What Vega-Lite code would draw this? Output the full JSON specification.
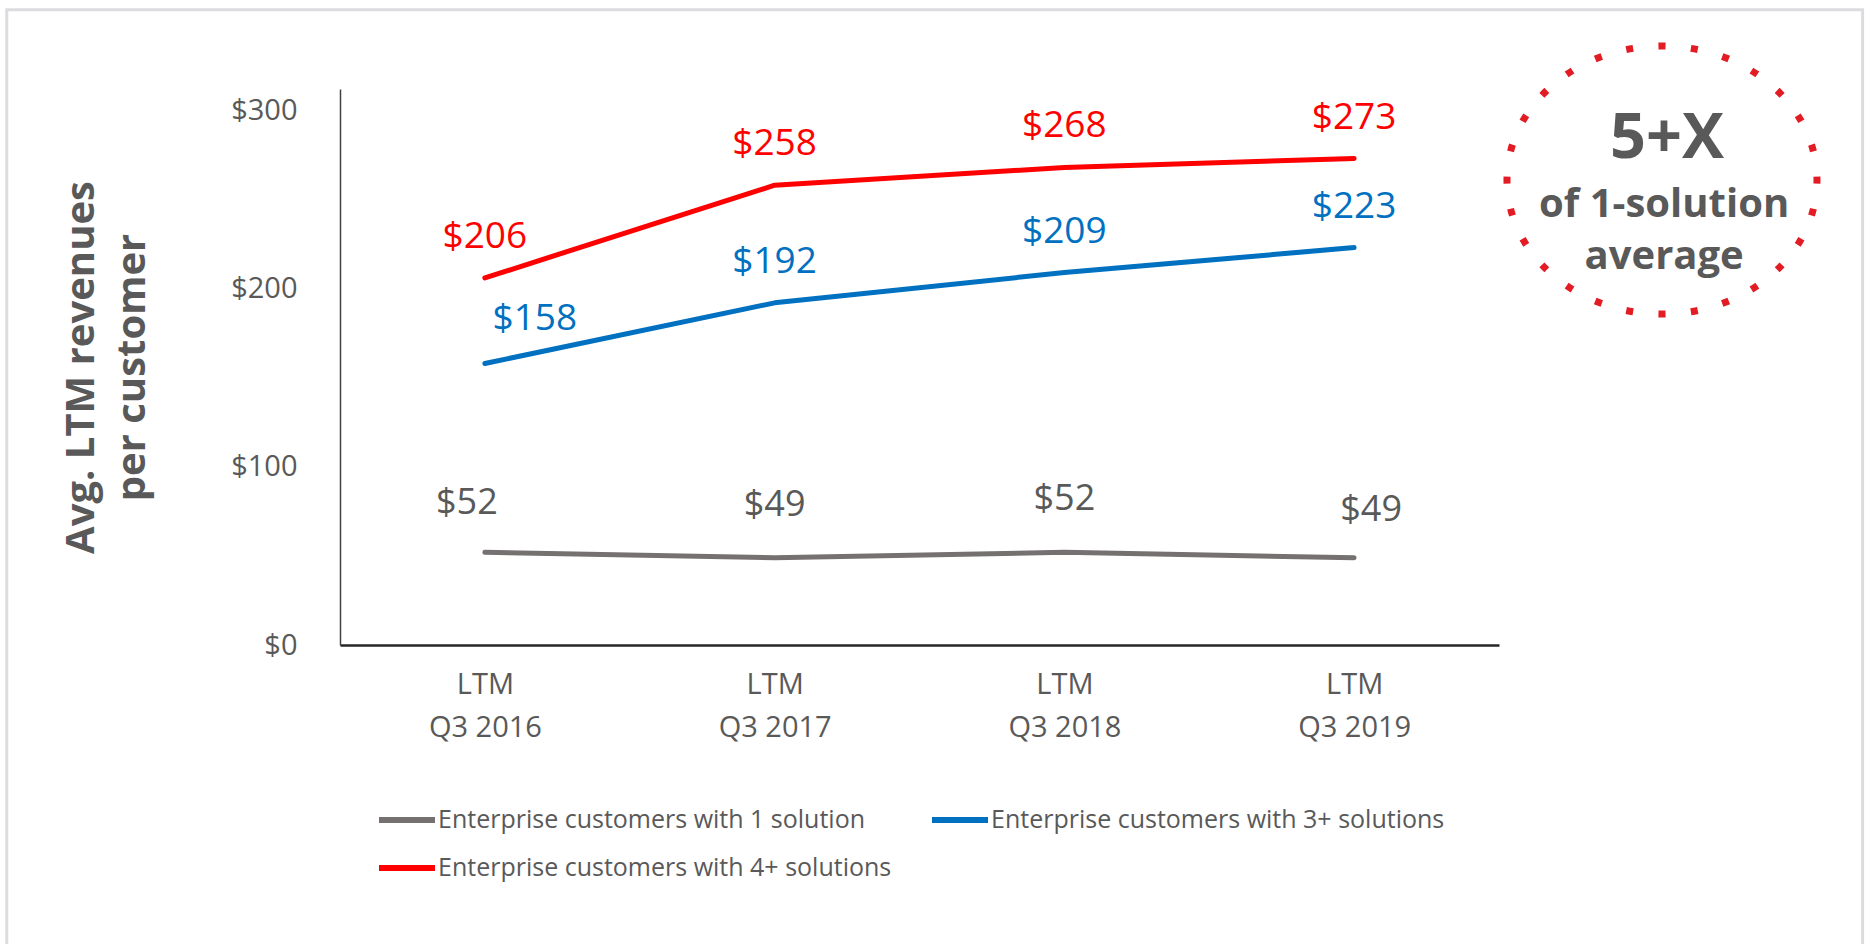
{
  "$schema": "https://vega.github.io/schema/vega-lite/v6.json",
  "width": 1159,
  "height": 556,
  "autosize": {"type": "none"},
  "padding": {"left": 340, "top": 89, "right": 371, "bottom": 299},
  "background": "white",
  "config": {"view": {"stroke": null}, "font": "Open Sans"},
  "data": {
    "values": [
      {"series": "Enterprise customers with 1 solution", "year": 2016, "value": 52},
      {"series": "Enterprise customers with 1 solution", "year": 2017, "value": 49},
      {"series": "Enterprise customers with 1 solution", "year": 2018, "value": 52},
      {"series": "Enterprise customers with 1 solution", "year": 2019, "value": 49},
      {"series": "Enterprise customers with 3+ solutions", "year": 2016, "value": 158},
      {"series": "Enterprise customers with 3+ solutions", "year": 2017, "value": 192},
      {"series": "Enterprise customers with 3+ solutions", "year": 2018, "value": 209},
      {"series": "Enterprise customers with 3+ solutions", "year": 2019, "value": 223},
      {"series": "Enterprise customers with 4+ solutions", "year": 2016, "value": 206},
      {"series": "Enterprise customers with 4+ solutions", "year": 2017, "value": 258},
      {"series": "Enterprise customers with 4+ solutions", "year": 2018, "value": 268},
      {"series": "Enterprise customers with 4+ solutions", "year": 2019, "value": 273}
    ]
  },
  "layer": [
    {
      "data": {"values": [{}]},
      "mark": {"type": "rect", "fill": "transparent", "stroke": "#DCDCE0", "strokeWidth": 3},
      "encoding": {
        "x": {"datum": 2014.35, "type": "quantitative"},
        "x2": {"datum": 2020.755},
        "y": {"datum": 356.5, "type": "quantitative"},
        "y2": {"datum": -180}
      }
    },
    {
      "mark": {"type": "line", "strokeWidth": 5, "strokeCap": "round", "strokeJoin": "round"},
      "encoding": {
        "x": {
          "field": "year", "type": "quantitative",
          "scale": {"domain": [2015.5, 2019.5], "nice": false, "zero": false},
          "axis": {
            "values": [2016, 2017, 2018, 2019],
            "labelExpr": "['LTM', 'Q3 ' + datum.value]",
            "ticks": false, "grid": false, "domain": true,
            "domainColor": "#262626", "domainWidth": 2.5,
            "labelFontSize": 29, "labelColor": "#595959", "labelFont": "Open Sans",
            "labelPadding": 25, "labelLineHeight": 43, "labelFlush": false, "labelOverlap": false,
            "title": null
          }
        },
        "y": {
          "field": "value", "type": "quantitative",
          "scale": {"domain": [0, 312], "nice": false},
          "axis": {
            "values": [0, 100, 200, 300], "format": "$.0f",
            "ticks": false, "grid": false,
            "domainColor": "#404040", "domainWidth": 1.5,
            "labelFontSize": 29, "labelColor": "#595959", "labelFont": "Open Sans",
            "labelPadding": 43, "labelFlush": false,
            "title": ["Avg. LTM revenues", "per customer"],
            "titleFont": "Open Sans", "titleFontSize": 40, "titleFontWeight": "bold", "titleColor": "#595959",
            "titleAngle": -90, "titleX": -247, "titleY": 278, "titleAlign": "center",
            "titleBaseline": "alphabetic", "titleLineHeight": 51
          }
        },
        "color": {
          "field": "series", "type": "nominal",
          "scale": {
            "domain": ["Enterprise customers with 1 solution", "Enterprise customers with 4+ solutions", "Enterprise customers with 3+ solutions"],
            "range": ["#767171", "#FF0000", "#0070C0"]
          },
          "legend": {
            "orient": "none", "legendX": 36, "legendY": 700, "columns": 2, "title": null,
            "symbolType": "stroke", "symbolSize": 3136, "symbolStrokeWidth": 6,
            "labelFontSize": 25, "labelColor": "#595959", "labelFont": "Open Sans", "labelLimit": 0,
            "columnPadding": 28, "rowPadding": 4, "labelOffset": 0
          }
        }
      }
    },
    {
      "transform": [{"filter": "datum.series == 'Enterprise customers with 4+ solutions' || (datum.series == 'Enterprise customers with 3+ solutions' && datum.year != 2016)"}],
      "mark": {"type": "text", "fontSize": 37, "baseline": "alphabetic", "align": "center", "dy": -30},
      "encoding": {
        "x": {"field": "year", "type": "quantitative"},
        "y": {"field": "value", "type": "quantitative"},
        "text": {"field": "value", "type": "quantitative", "format": "$.0f"},
        "fill": {
          "field": "series", "type": "nominal",
          "scale": {
            "domain": ["Enterprise customers with 1 solution", "Enterprise customers with 3+ solutions", "Enterprise customers with 4+ solutions"],
            "range": ["#595959", "#0070C0", "#FF0000"]
          },
          "legend": null
        }
      }
    },
    {
      "transform": [{"filter": "datum.series == 'Enterprise customers with 3+ solutions' && datum.year == 2016"}],
      "mark": {"type": "text", "fontSize": 37, "baseline": "alphabetic", "align": "center", "dy": -33, "dx": 50},
      "encoding": {
        "x": {"field": "year", "type": "quantitative"},
        "y": {"field": "value", "type": "quantitative"},
        "text": {"field": "value", "type": "quantitative", "format": "$.0f"},
        "fill": {"field": "series", "type": "nominal", "legend": null}
      }
    },
    {
      "transform": [{"filter": "datum.series == 'Enterprise customers with 1 solution' && (datum.year == 2017 || datum.year == 2018)"}],
      "mark": {"type": "text", "fontSize": 36, "baseline": "alphabetic", "align": "center", "dy": -42},
      "encoding": {
        "x": {"field": "year", "type": "quantitative"},
        "y": {"field": "value", "type": "quantitative"},
        "text": {"field": "value", "type": "quantitative", "format": "$.0f"},
        "fill": {"field": "series", "type": "nominal", "legend": null}
      }
    },
    {
      "transform": [{"filter": "datum.series == 'Enterprise customers with 1 solution' && datum.year == 2016"}],
      "mark": {"type": "text", "fontSize": 36, "baseline": "alphabetic", "align": "center", "dy": -38, "dx": -18},
      "encoding": {
        "x": {"field": "year", "type": "quantitative"},
        "y": {"field": "value", "type": "quantitative"},
        "text": {"field": "value", "type": "quantitative", "format": "$.0f"},
        "fill": {"field": "series", "type": "nominal", "legend": null}
      }
    },
    {
      "transform": [{"filter": "datum.series == 'Enterprise customers with 1 solution' && datum.year == 2019"}],
      "mark": {"type": "text", "fontSize": 36, "baseline": "alphabetic", "align": "center", "dy": -37, "dx": 17},
      "encoding": {
        "x": {"field": "year", "type": "quantitative"},
        "y": {"field": "value", "type": "quantitative"},
        "text": {"field": "value", "type": "quantitative", "format": "$.0f"},
        "fill": {"field": "series", "type": "nominal", "legend": null}
      }
    },
    {
      "data": {"values": [{}]},
      "mark": {
        "type": "point",
        "shape": "M 1 0 C 1 0.4775 0.5523 0.8645 0 0.8645 C -0.5523 0.8645 -1 0.4775 -1 0 C -1 -0.4775 -0.5523 -0.8645 0 -0.8645 C 0.5523 -0.8645 1 -0.4775 1 0 Z",
        "size": 96100, "filled": false, "stroke": "#E31B23", "strokeWidth": 7,
        "strokeDash": [7, 25.46], "strokeDashOffset": 3.5, "opacity": 1
      },
      "encoding": {
        "x": {"datum": 2020.0625, "type": "quantitative"},
        "y": {"datum": 260.9, "type": "quantitative"}
      }
    },
    {
      "data": {"values": [{"t": "5+X"}]},
      "mark": {"type": "text", "fontSize": 63, "fontWeight": "bold", "fill": "#595959", "align": "center", "baseline": "alphabetic"},
      "encoding": {
        "x": {"datum": 2020.08, "type": "quantitative"},
        "y": {"datum": 273.3, "type": "quantitative"},
        "text": {"field": "t", "type": "nominal"}
      }
    },
    {
      "data": {"values": [{"t": ["of 1-solution", "average"]}]},
      "mark": {"type": "text", "fontSize": 40, "fontWeight": "bold", "fill": "#595959", "align": "center", "baseline": "alphabetic", "lineHeight": 52},
      "encoding": {
        "x": {"datum": 2020.07, "type": "quantitative"},
        "y": {"datum": 240.3, "type": "quantitative"},
        "text": {"field": "t", "type": "nominal"}
      }
    }
  ]
}
